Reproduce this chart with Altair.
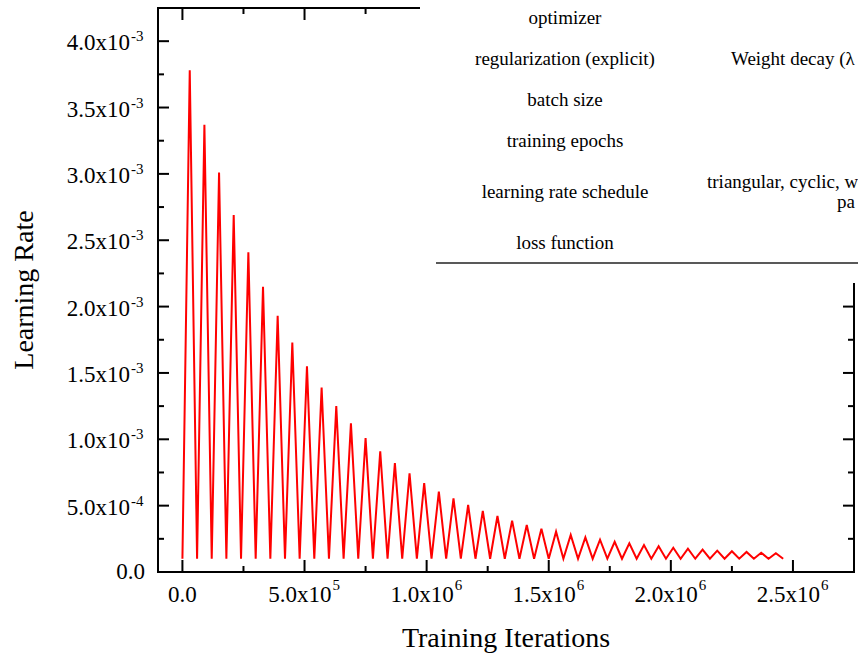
import altair as alt
import pandas as pd

# ---------------- data ----------------
# iterations (in thousands) of the cycle peaks and troughs
peak_iter_k = [30, 90, 150, 210, 270, 330, 390, 450, 510, 570, 630, 690, 750, 810,
               870, 930, 990, 1050, 1110, 1170, 1230, 1290, 1350, 1410, 1470, 1530,
               1590, 1650, 1710, 1770, 1830, 1890, 1950, 2010, 2070, 2130, 2190, 2250,
               2310, 2370, 2430]
peak_lr_e3 = [3.78, 3.37, 3.01, 2.69, 2.41, 2.15, 1.93, 1.73, 1.55, 1.39, 1.25, 1.12,
              1.01, 0.91, 0.82, 0.744, 0.670, 0.605, 0.555, 0.505, 0.460, 0.422, 0.387,
              0.354, 0.326, 0.304, 0.279, 0.261, 0.243, 0.228, 0.216, 0.203, 0.194,
              0.183, 0.176, 0.168, 0.161, 0.156, 0.151, 0.145, 0.141]
trough_iter_k = [0, 60, 120, 180, 240, 300, 360, 420, 480, 540, 600, 660, 720, 780,
                 840, 900, 960, 1020, 1080, 1140, 1200, 1260, 1320, 1380, 1440, 1500,
                 1560, 1620, 1680, 1740, 1800, 1860, 1920, 1980, 2040, 2100, 2160, 2220,
                 2280, 2340, 2400, 2460]
trough_lr_e3 = [0.10, 0.10, 0.10, 0.10, 0.10, 0.10, 0.10, 0.10, 0.10, 0.10, 0.10,
                0.10, 0.10, 0.10, 0.10, 0.10, 0.10, 0.10, 0.10, 0.10, 0.10, 0.10,
                0.10, 0.10, 0.10, 0.10, 0.10, 0.10, 0.10, 0.10, 0.10, 0.10, 0.10,
                0.10, 0.10, 0.10, 0.10, 0.10, 0.10, 0.10, 0.10, 0.10]

# axis ticks and labels
x_major = [0, 500000, 1000000, 1500000, 2000000, 2500000]
x_major_base = ["0.0", "5.0x10", "1.0x10", "1.5x10", "2.0x10", "2.5x10"]
x_major_exp = ["", "5", "6", "6", "6", "6"]
x_minor = [250000, 750000, 1250000, 1750000, 2250000]

y_major = [0.0, 0.0005, 0.001, 0.0015, 0.002, 0.0025, 0.003, 0.0035, 0.004]
y_major_base = ["0.0", "5.0x10", "1.0x10", "1.5x10", "2.0x10", "2.5x10", "3.0x10",
                "3.5x10", "4.0x10"]
y_major_exp = ["", "-4", "-3", "-3", "-3", "-3", "-3", "-3", "-3"]
y_minor = [0.00025, 0.00075, 0.00125, 0.00175, 0.00225, 0.00275, 0.00325, 0.00375]

x_title = "Training Iterations"
y_title = "Learning Rate"

# overlapping table fragment (upper right)
table_left_col = ["optimizer", "regularization (explicit)", "batch size",
                  "training epochs", "learning rate schedule", "loss function"]
table_right_col = ["Weight decay (\u03bb", "triangular, cyclic, w", "pa"]

# ---------------- layout ----------------
W, H = 696, 564
FONT = "Liberation Serif"

xs = alt.Scale(domain=[-100000, 2750000], nice=False, zero=False)
ys = alt.Scale(domain=[0, 0.00425], nice=False, zero=False)

line_df = pd.concat([
    pd.DataFrame({"iter": [v * 1000 for v in peak_iter_k],
                  "lr": [v / 1000 for v in peak_lr_e3]}),
    pd.DataFrame({"iter": [v * 1000 for v in trough_iter_k],
                  "lr": [v / 1000 for v in trough_lr_e3]}),
]).sort_values("iter").reset_index(drop=True)

line = alt.Chart(line_df).mark_line(color="#ff0000", strokeWidth=2).encode(
    x=alt.X("iter:Q", scale=xs, axis=None),
    y=alt.Y("lr:Q", scale=ys, axis=None),
    order="iter:Q",
)

one = pd.DataFrame({"a": [1]})
frame_style = dict(color="black", strokeWidth=2)
frame = [
    alt.Chart(one).mark_rule(**frame_style).encode(x=alt.value(0), y=alt.value(-1), y2=alt.value(H + 1)),
    alt.Chart(one).mark_rule(**frame_style).encode(x=alt.value(W), y=alt.value(-1), y2=alt.value(H + 1)),
    alt.Chart(one).mark_rule(**frame_style).encode(y=alt.value(0), x=alt.value(-1), x2=alt.value(W + 1)),
    alt.Chart(one).mark_rule(**frame_style).encode(y=alt.value(H), x=alt.value(-1), x2=alt.value(W + 1)),
]

dx_maj = pd.DataFrame({"v": x_major, "base": x_major_base, "exp": x_major_exp})
dx_min = pd.DataFrame({"v": x_minor})
dy_maj = pd.DataFrame({"v": y_major, "base": y_major_base, "exp": y_major_exp})
dy_min = pd.DataFrame({"v": y_minor})

XV = alt.X("v:Q", scale=xs, axis=None)
YV = alt.Y("v:Q", scale=ys, axis=None)
tick_style = dict(color="black", strokeWidth=2)
ticks = [
    alt.Chart(dx_maj).mark_rule(**tick_style).encode(x=XV, y=alt.value(H), y2=alt.value(H - 12)),
    alt.Chart(dx_maj).mark_rule(**tick_style).encode(x=XV, y=alt.value(0), y2=alt.value(12)),
    alt.Chart(dx_min).mark_rule(**tick_style).encode(x=XV, y=alt.value(H), y2=alt.value(H - 6)),
    alt.Chart(dx_min).mark_rule(**tick_style).encode(x=XV, y=alt.value(0), y2=alt.value(6)),
    alt.Chart(dy_maj).mark_rule(**tick_style).encode(y=YV, x=alt.value(0), x2=alt.value(11)),
    alt.Chart(dy_maj).mark_rule(**tick_style).encode(y=YV, x=alt.value(W), x2=alt.value(W - 11)),
    alt.Chart(dy_min).mark_rule(**tick_style).encode(y=YV, x=alt.value(0), x2=alt.value(6)),
    alt.Chart(dy_min).mark_rule(**tick_style).encode(y=YV, x=alt.value(W), x2=alt.value(W - 6)),
]

# tick labels
lab = dict(font=FONT, fontSize=23, color="black")
sup = dict(font=FONT, fontSize=15, color="black")
dx_plain = dx_maj[dx_maj["exp"] == ""]
dx_pow = dx_maj[dx_maj["exp"] != ""]
dy_plain = dy_maj[dy_maj["exp"] == ""]
dy_pow = dy_maj[dy_maj["exp"] != ""]

labels = [
    alt.Chart(dx_plain).mark_text(align="center", baseline="middle", **lab).encode(
        x=XV, y=alt.value(H + 23), text="base:N"),
    alt.Chart(dx_pow).mark_text(align="right", baseline="middle", dx=27, **lab).encode(
        x=XV, y=alt.value(H + 23), text="base:N"),
    alt.Chart(dx_pow).mark_text(align="left", baseline="middle", dx=28, **sup).encode(
        x=XV, y=alt.value(H + 13), text="exp:N"),
    alt.Chart(dy_plain).mark_text(align="right", baseline="middle", **lab).encode(
        y=YV, x=alt.value(-13), text="base:N"),
    alt.Chart(dy_pow).mark_text(align="right", baseline="middle", dy=2, **lab).encode(
        y=YV, x=alt.value(-28), text="base:N"),
    alt.Chart(dy_pow).mark_text(align="left", baseline="middle", dx=1, dy=-5, **sup).encode(
        y=YV, x=alt.value(-28), text="exp:N"),
]

titles = [
    alt.Chart(pd.DataFrame({"t": [x_title]})).mark_text(
        align="center", baseline="alphabetic", font=FONT, fontSize=28, color="black"
    ).encode(x=alt.value(W / 2), y=alt.value(639), text="t:N"),
    alt.Chart(pd.DataFrame({"t": [y_title]})).mark_text(
        align="center", baseline="alphabetic", angle=270, font=FONT, fontSize=28, color="black"
    ).encode(x=alt.value(-125), y=alt.value(H / 2), text="t:N"),
]

# table fragment pasted over the upper right corner
cover = alt.Chart(one).mark_rect(color="white").encode(
    x=alt.value(262), x2=alt.value(W + 20), y=alt.value(-20), y2=alt.value(275))

left_df = pd.DataFrame({"t": table_left_col, "py": [10, 51, 92, 133, 184, 235]})
right_df = pd.DataFrame({"t": table_right_col, "px": [573, 549, 679], "py": [51, 174, 194]})
table_txt = dict(font=FONT, fontSize=19, color="black", baseline="middle")
table = [
    alt.Chart(left_df).mark_text(align="center", **table_txt).encode(
        x=alt.value(407), y=alt.Y("py:Q", scale=None), text="t:N"),
    alt.Chart(right_df).mark_text(align="left", **table_txt).encode(
        x=alt.X("px:Q", scale=None), y=alt.Y("py:Q", scale=None), text="t:N"),
    alt.Chart(one).mark_rule(color="#222222", strokeWidth=1.5).encode(
        x=alt.value(278), x2=alt.value(W + 20), y=alt.value(255)),
]

chart = alt.layer(line, *frame, *ticks, *labels, *titles, cover, *table).properties(
    width=W,
    height=H,
    autosize=alt.AutoSizeParams(type="none"),
    padding={"left": 158, "top": 8, "right": 4, "bottom": 83},
    background="white",
).configure_view(stroke=None)

chart.save("out.html", embed_options={"renderer": "svg", "actions": False})
